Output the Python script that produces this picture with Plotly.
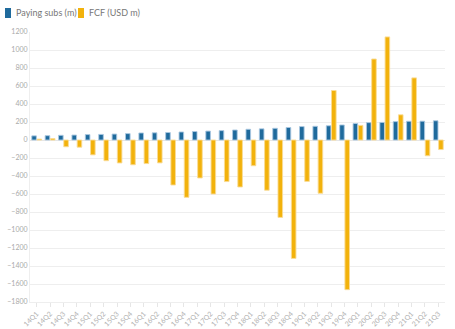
import plotly.graph_objects as go

quarters = ["14Q1","14Q2","14Q3","14Q4","15Q1","15Q2","15Q3","15Q4",
            "16Q1","16Q2","16Q3","16Q4","17Q1","17Q2","17Q3","17Q4",
            "18Q1","18Q2","18Q3","18Q4","19Q1","19Q2","19Q3","19Q4",
            "20Q1","20Q2","20Q3","20Q4","21Q1","21Q2","21Q3"]
paying_subs = [46, 48, 52, 55, 60, 62, 66, 71, 78, 80, 83, 89, 94, 99, 104, 111,
               119, 124, 130, 139, 149, 152, 158, 167, 183, 193, 195, 204, 208, 209, 214]
fcf = [10, 16, -75, -80, -165, -230, -255, -275, -262, -254, -500, -637, -422, -600, -462, -522,
       -286, -558, -860, -1316, -460, -592, 550, -1663, 162, 900, 1145, 280, 690, -175, -106]
series_names = ["Paying subs (m)", "FCF (USD m)"]
blue, orange = "#1f6a9c", "#f2b20c"

fig = go.Figure()
fig.add_trace(go.Bar(x=quarters, y=paying_subs, name=series_names[0],
                     marker=dict(color=blue, line=dict(color="rgba(170,200,225,0.9)", width=1))))
fig.add_trace(go.Bar(x=quarters, y=fcf, name=series_names[1],
                     marker=dict(color=orange, line=dict(color="rgba(250,220,150,0.9)", width=1))))

W, H = 455, 329
# compact legend drawn with shapes + text annotations (pixel -> paper conversion)
legend_items = [(5, 14, series_names[0], blue), (78, 87, series_names[1], orange)]
for sx, tx, label, col in legend_items:
    fig.add_shape(type="rect", xref="paper", yref="paper",
                  x0=(sx - 30) / 415, x1=(sx - 30 + 6) / 415,
                  y0=(329 - 27 - 18) / 270, y1=(329 - 27 - 8) / 270,
                  fillcolor=col, line=dict(width=0))
    fig.add_annotation(text=label, xref="paper", yref="paper",
                       x=(tx - 30) / 415, y=(329 - 27 - 13) / 270,
                       xanchor="left", yanchor="middle", showarrow=False,
                       font=dict(size=9, color="#777777"))

fig.update_layout(
    width=W, height=H,
    margin=dict(l=30, r=10, t=32, b=27, autoexpand=False),
    paper_bgcolor="white", plot_bgcolor="white",
    barmode="group", bargap=0.22, bargroupgap=0.12,
    font=dict(family="Lato, Open Sans, sans-serif", color="#999999"),
    showlegend=False,
)
fig.update_yaxes(range=[-1800, 1200], dtick=200, showgrid=True, gridcolor="#eeeeee",
                 gridwidth=1, zeroline=True, zerolinecolor="#e6e6e6", zerolinewidth=1,
                 tickfont=dict(size=7, color="#aaaaaa"), showline=True, linecolor="#eeeeee",
                 ticks="", fixedrange=True, automargin=False)
fig.update_xaxes(tickangle=-45, tickfont=dict(size=7, color="#b0b0b0"), showline=True,
                 linecolor="#eeeeee", ticks="outside", ticklen=4, tickcolor="#e6e6e6",
                 showgrid=False, fixedrange=True, automargin=False)

fig.write_html("out.html")
